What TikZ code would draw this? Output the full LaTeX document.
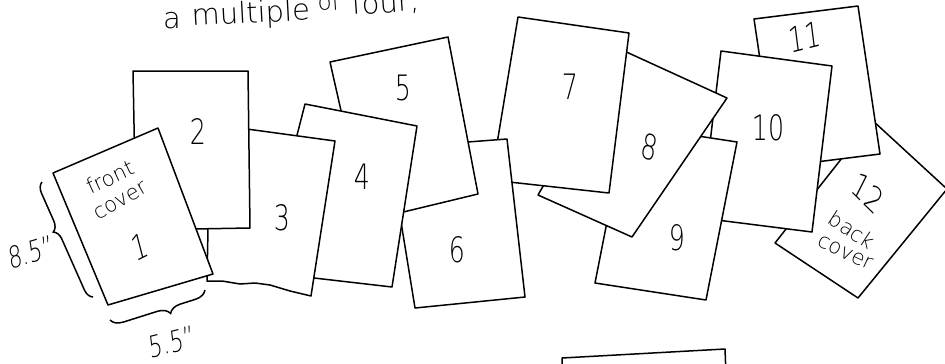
\documentclass[tikz,border=0pt]{standalone}
\usepackage{fontspec}
\IfFontExistsTF{DejaVu Sans ExtraLight}{\setmainfont{DejaVu Sans ExtraLight}}{\setmainfont{Open Sans}}
\usetikzlibrary{decorations.pathreplacing}
\begin{document}
\begin{tikzpicture}[x=1pt,y=-1pt,
  page/.style={draw=black,fill=white,line width=1.5pt,line join=round},
  num/.style={font=\fontsize{35}{35}\selectfont,xscale=0.72,inner sep=0pt},
  word/.style={font=\fontsize{21}{21}\selectfont,inner sep=0pt},
  toptext/.style={font=\fontsize{29}{29}\selectfont,inner sep=0pt,anchor=base west},
  dim/.style={font=\fontsize{30}{30}\selectfont,xscale=0.72,inner sep=0pt},
  bracestyle/.style={draw=black,line width=1.5pt,decorate}]
\useasboundingbox (0,0) rectangle (945,364);
\clip (0,0) rectangle (945,364);
\fill[white] (0,0) rectangle (945,364);
% top text (cropped)
\node[toptext] (ta) at (163,28) {a};
\node[toptext,rotate=3] (tb) at (192,26) {multiple};
\node[toptext,rotate=4,font=\fontsize{23}{23}\selectfont] (tc) at (318,11) {of};
\node[toptext,rotate=4] (td) at (352,15) {four,};
% bottom partial page
\draw[page] (562,358) -- (725,349) -- (727,400) -- (563,400) -- cycle;
% pages, back to front
\draw[page] (872,120) -- (947,189) -- (858,298) -- (775,243) -- cycle;
\draw[page] (754,19) -- (858,6) -- (880,154) -- (776,167) -- cycle;
\draw[page] (721,51) -- (832,66) -- (812,232) -- (701,218) -- cycle;
\draw[page] (626,125) -- (737,142) -- (706,300) -- (595,283) -- cycle;
\draw[page] (622,50) -- (727,98) -- (632,237) -- (538,195) -- cycle;
\draw[page] (518,17) -- (629,33) -- (609,193) -- (491,180) -- cycle;
\draw[page] (389,148) -- (507,139) -- (525,297) -- (415,308) -- cycle;
\draw[page] (330,62) -- (448,37) -- (478,194) -- (366,221) -- cycle;
\draw[page] (305,104) -- (417,126) -- (392,287) -- (262,272) -- cycle;
\draw[page] (210,124) -- (335,141) -- (311,296) -- (290,291) -- (270,285)
  -- (255,283) -- (240,284) -- (222,281) -- (207,281) -- cycle;
\draw[page] (133,71) -- (248,71) -- (250,228) -- (136,230) -- cycle;
\draw[page] (53,173) -- (158,128) -- (213,274) -- (108,305) -- cycle;
% labels
\node[word,rotate=25] (front) at (110,177) {front};
\node[word,rotate=30] (cover1) at (121,201) {cover};
\node[num,rotate=20] (n1) at (140,247) {1};
\node[num] (n2) at (198,132) {2};
\node[num] (n3) at (282,218) {3};
\node[num] (n4) at (362,177) {4};
\node[num] (n5) at (403,88) {5};
\node[num] (n6) at (457,250) {6};
\node[num] (n7) at (570,87) {7};
\node[num,rotate=-15] (n8) at (650,147) {8};
\node[num] (n9) at (677,238) {9};
\node[num] (n10) at (768,128) {10};
\node[num,rotate=10] (n11) at (805,37) {11};
\node[num,rotate=-35] (n12) at (868,193) {12};
\node[word,rotate=-33] (back) at (852,230) {back};
\node[word,rotate=-25] (cover12) at (845,253) {cover};
% dimension braces
\coordinate (lb1) at (93,297);
\coordinate (lb2) at (42,182);
\draw[bracestyle,decoration={brace,amplitude=10pt,aspect=0.6}] (lb1) -- (lb2);
\coordinate (bb1) at (205,290);
\coordinate (bb2) at (110,320);
\draw[bracestyle,decoration={brace,amplitude=12pt,aspect=0.4}] (bb1) -- (bb2);
\node[dim,rotate=12] (h) at (31,252) {8.5"};
\node[dim,rotate=10] (w) at (172,342) {5.5"};
\end{tikzpicture}
\end{document}
